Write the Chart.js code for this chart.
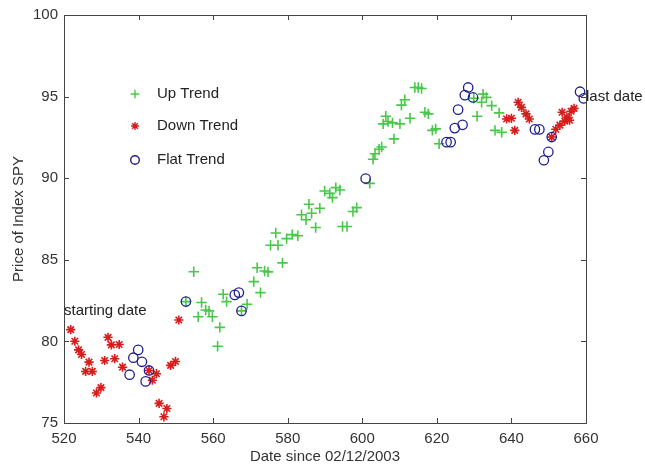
<!DOCTYPE html>
<html>
<head>
<meta charset="utf-8">
<script src="https://cdn.jsdelivr.net/npm/chart.js@4.4.0/dist/chart.umd.min.js"></script>
<style>
  html, body { margin: 0; padding: 0; background: #fff; }
  #wrap { width: 645px; height: 470px; }
</style>
</head>
<body>
<div id="wrap"><canvas id="chart" width="645" height="470"></canvas></div>
<script>
// values (day index, price)
let upX = [552.7, 554.8, 556.9, 558.0, 558.9, 556.0, 559.8, 561.8, 561.2, 562.7, 563.6, 567.6, 569.1, 570.9, 571.8, 573.8, 574.7, 572.7, 578.6, 576.8, 575.4, 577.4, 579.7, 581.2, 582.7, 587.5, 583.7, 584.9, 586.4, 588.6, 585.7, 589.9, 591.3, 592.0, 592.9, 594.0, 594.7, 595.9, 597.5, 598.5, 602.0, 602.9, 603.4, 604.5, 605.2, 608.5, 605.6, 606.9, 606.3, 608.1, 610.1, 612.8, 610.5, 611.4, 614.1, 615.0, 615.9, 616.8, 617.7, 618.8, 619.7, 620.6, 629.9, 632.4, 633.3, 632.0, 634.7, 636.7, 630.8, 635.6, 637.4];
let upY = [82.44, 84.27, 82.38, 81.92, 81.87, 81.51, 81.51, 80.86, 79.70, 82.89, 82.44, 81.87, 82.28, 83.66, 84.51, 84.31, 84.26, 82.99, 84.81, 86.64, 85.89, 85.89, 86.30, 86.54, 86.47, 86.98, 87.76, 87.45, 87.85, 88.16, 88.40, 89.22, 89.07, 88.81, 89.42, 89.28, 87.04, 87.04, 87.96, 88.20, 89.68, 91.16, 91.50, 91.77, 91.91, 92.41, 93.33, 93.47, 93.80, 93.39, 93.33, 93.67, 94.48, 94.81, 95.56, 95.56, 95.50, 94.04, 93.94, 92.93, 93.02, 92.11, 94.90, 95.15, 94.95, 94.65, 94.45, 94.00, 93.80, 92.93, 92.82];

let downX = [521.8, 522.9, 523.9, 524.7, 526.7, 525.8, 527.6, 528.7, 529.9, 530.9, 531.8, 532.7, 534.8, 533.6, 535.7, 544.8, 543.7, 542.8, 545.5, 547.6, 546.8, 548.6, 549.9, 550.8, 638.7, 640.0, 640.9, 641.8, 642.7, 643.9, 644.8, 650.8, 651.9, 653.0, 654.3, 653.6, 654.9, 656.0, 656.8, 655.6];
let downY = [80.72, 80.01, 79.48, 79.20, 78.73, 78.16, 78.16, 76.84, 77.17, 78.83, 80.25, 79.79, 79.81, 78.94, 78.42, 78.02, 77.62, 78.22, 76.20, 75.89, 75.38, 78.53, 78.77, 81.31, 93.63, 93.67, 92.93, 94.65, 94.34, 93.94, 93.63, 92.52, 93.00, 93.25, 93.50, 94.04, 93.73, 94.10, 94.28, 93.55];

let flatX = [539.9, 538.6, 540.9, 537.6, 542.8, 541.9, 552.7, 565.8, 566.9, 567.6, 600.9, 622.6, 623.7, 624.8, 626.9, 625.7, 628.4, 627.5, 629.7, 646.3, 647.5, 650.8, 649.9, 648.7, 658.4, 659.4];
let flatY = [79.48, 79.00, 78.75, 77.96, 78.22, 77.55, 82.44, 82.85, 82.99, 81.87, 89.98, 92.21, 92.21, 93.07, 93.27, 94.20, 95.56, 95.09, 94.95, 92.99, 92.99, 92.52, 91.61, 91.10, 95.30, 94.89];

let xTicks = [520, 540, 560, 580, 600, 620, 640, 660];
let yTicks = [75, 80, 85, 90, 95, 100];

let legendNames = ['Up Trend', 'Down Trend', 'Flat Trend'];
let notes = [
    { text: 'starting date', x: 520, y: 81.9 },
    { text: 'last date', x: 660, y: 95.0 }
];

const GREEN = 'rgb(72,200,72)';
const RED = 'rgb(215,28,28)';
const BLUE = 'rgb(30,30,140)';

function pairs(xs, ys) {
    return xs.map((x, i) => ({ x: x, y: ys[i] }));
}

// little marker drawer used for the legend
function marker(ctx, kind, x, y, r) {
    ctx.beginPath();
    if (kind === 'plus' || kind === 'star') {
        ctx.moveTo(x - r, y); ctx.lineTo(x + r, y);
        ctx.moveTo(x, y - r); ctx.lineTo(x, y + r);
    }
    if (kind === 'star') {
        let d = r * 0.707;
        ctx.moveTo(x - d, y - d); ctx.lineTo(x + d, y + d);
        ctx.moveTo(x - d, y + d); ctx.lineTo(x + d, y - d);
    }
    if (kind === 'circle') {
        ctx.arc(x, y, r, 0, Math.PI * 2);
    }
    ctx.stroke();
}

// matlab style box, inward ticks, legend and text notes
const boxPlugin = {
    id: 'box',
    afterDatasetsDraw(chart) {
        let ctx = chart.ctx;
        let a = chart.chartArea;
        let xs = chart.scales.x;
        let ys = chart.scales.y;
        ctx.save();
        ctx.strokeStyle = '#444';
        ctx.lineWidth = 1;
        ctx.strokeRect(a.left + 0.5, a.top + 0.5, a.right - a.left, a.bottom - a.top);

        ctx.beginPath();
        xTicks.slice(1, -1).forEach(v => {
            let px = Math.round(xs.getPixelForValue(v)) + 0.5;
            ctx.moveTo(px, a.bottom); ctx.lineTo(px, a.bottom - 5);
            ctx.moveTo(px, a.top); ctx.lineTo(px, a.top + 5);
        });
        yTicks.slice(1, -1).forEach(v => {
            let py = Math.round(ys.getPixelForValue(v)) + 0.5;
            ctx.moveTo(a.left, py); ctx.lineTo(a.left + 5, py);
            ctx.moveTo(a.right, py); ctx.lineTo(a.right - 5, py);
        });
        ctx.stroke();

        // legend
        let kinds = ['plus', 'star', 'circle'];
        let colors = [GREEN, RED, BLUE];
        let rows = [94, 126, 160];
        ctx.font = "15px 'Liberation Sans', Arial, sans-serif";
        ctx.textBaseline = 'middle';
        ctx.textAlign = 'left';
        for (let i = 0; i < 3; i++) {
            ctx.strokeStyle = colors[i];
            ctx.lineWidth = 1.4;
            marker(ctx, kinds[i], 135, rows[i], i === 1 ? 4 : 4.3);
            ctx.fillStyle = '#222';
            ctx.fillText(legendNames[i], 157, rows[i]);
        }

        // notes
        notes.forEach(n => {
            ctx.fillStyle = '#222';
            ctx.fillText(n.text, xs.getPixelForValue(n.x), ys.getPixelForValue(n.y));
        });
        ctx.restore();
    }
};

Chart.defaults.font.family = "'Liberation Sans', Arial, sans-serif";
Chart.defaults.font.size = 15;
Chart.defaults.color = '#333';

let ctx = document.getElementById('chart').getContext('2d');

let myChart = new Chart(ctx, {
    type: 'scatter',
    data: {
        datasets: [
            {
                label: legendNames[0],
                data: pairs(upX, upY),
                pointStyle: 'cross',
                radius: 5.2,
                borderColor: GREEN,
                backgroundColor: GREEN,
                borderWidth: 1.6,
                order: 3
            },
            {
                label: legendNames[1],
                data: pairs(downX, downY),
                pointStyle: 'star',
                radius: 4.6,
                borderColor: RED,
                backgroundColor: RED,
                borderWidth: 1.6,
                order: 2
            },
            {
                label: legendNames[2],
                data: pairs(flatX, flatY),
                pointStyle: 'circle',
                radius: 4.7,
                borderColor: BLUE,
                backgroundColor: 'rgba(0,0,0,0)',
                borderWidth: 1.3,
                order: 1
            }
        ]
    },
    options: {
        responsive: false,
        animation: false,
        events: [],
        layout: { padding: { left: 0, right: 59, top: 12, bottom: 0 } },
        plugins: {
            legend: { display: false },
            tooltip: { enabled: false }
        },
        scales: {
            x: {
                type: 'linear',
                min: 520,
                max: 660,
                afterFit: (scale) => { scale.height = 47; },
                afterBuildTicks: (scale) => { scale.ticks = xTicks.map(v => ({ value: v })); },
                grid: { display: false, drawTicks: false },
                border: { display: false },
                ticks: { padding: 7, color: '#333', maxRotation: 0 },
                title: {
                    display: true,
                    text: 'Date since 02/12/2003',
                    color: '#333',
                    padding: { top: 0, bottom: 4 }
                }
            },
            y: {
                type: 'linear',
                min: 75,
                max: 100,
                afterFit: (scale) => { scale.width = 64; },
                afterBuildTicks: (scale) => { scale.ticks = yTicks.map(v => ({ value: v })); },
                grid: { display: false, drawTicks: false },
                border: { display: false },
                ticks: { padding: 6, color: '#333' },
                title: {
                    display: true,
                    text: 'Price of Index SPY',
                    color: '#333',
                    padding: { top: 10, bottom: 0 }
                }
            }
        }
    },
    plugins: [boxPlugin]
});
</script>
</body>
</html>
